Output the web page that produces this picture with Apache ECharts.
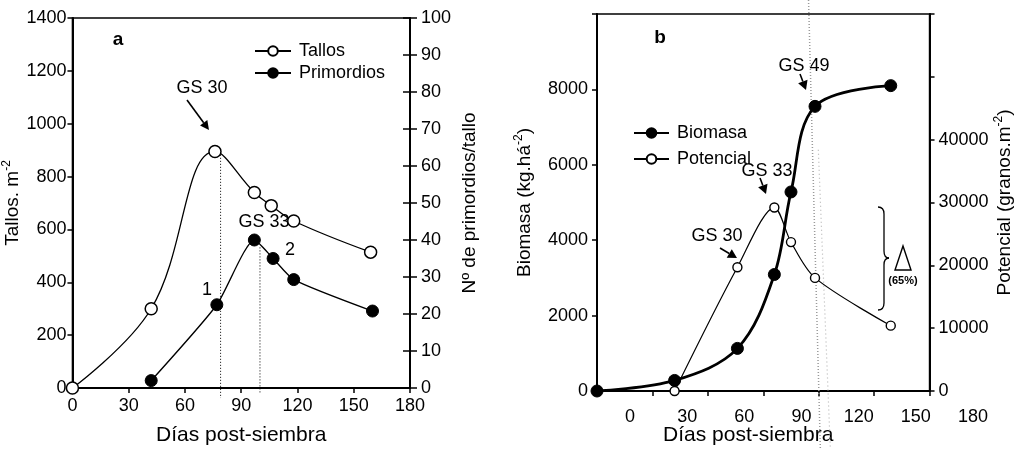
<!DOCTYPE html>
<html>
<head>
<meta charset="utf-8">
<script src="https://cdn.jsdelivr.net/npm/echarts@6/dist/echarts.min.js"></script>
<style>html,body{margin:0;padding:0;background:#fff}#c{width:1015px;height:451px}</style>
</head>
<body>
<div id="c"></div>
<script>
// ---------- Panel a data ----------
const daysTallos = [0, 42, 76, 97, 106, 118, 159];
const tallos = [0, 300, 895, 740, 690, 632, 514];
const daysPrim = [42, 77, 97, 107, 118, 160];
const primordios = [2, 22.5, 40, 35, 29.3, 20.8];
const xTicksA = [0, 30, 60, 90, 120, 150, 180];
const tallosTicks = [0, 200, 400, 600, 800, 1000, 1200, 1400];
const primTicks = [0, 10, 20, 30, 40, 50, 60, 70, 80, 90, 100];
const gs30LineA = [[79, 905], [79, -38]];
const gs33LineA = [[100, 38], [100, -1.5]];

// ---------- Panel b data ----------
const daysBio = [0, 42, 76, 96, 105, 118, 159];
const biomasa = [0, 280, 1130, 3090, 5280, 7550, 8100];
const daysPot = [42, 76, 96, 105, 118, 159];
const potencial = [0, 19700, 29200, 23700, 18000, 10400];
const xTicksB = [0, 30, 60, 90, 120, 150, 180];
const bioTicks = [0, 2000, 4000, 6000, 8000, 10000];
const bioTickLabels = [0, 2000, 4000, 6000, 8000];
const potTicks = [0, 10000, 20000, 30000, 40000, 50000, 60000];
const potTickLabels = [0, 10000, 20000, 30000, 40000];
const gs49Band1 = [[114.5, 10370], [120.9, -1530]];
const gs49Band2 = [[119.8, 6400], [126.3, -1530]];

const zip = (xs, ys) => xs.map((x, i) => [x, ys[i]]);
const FONT = 'Liberation Sans';
const BLK = '#000';

function axisRange(t) { return { min: t[0], max: t[t.length - 1], interval: t[1] - t[0] }; }

function arrow(x1, y1, x2, y2, L, W) {
  L = L || 9; W = W || 4.5;
  const a = Math.atan2(y2 - y1, x2 - x1), c = Math.cos(a), s = Math.sin(a);
  const bx = x2 - L * c, by = y2 - L * s;
  return [
    { type: 'line', shape: { x1: x1, y1: y1, x2: bx, y2: by }, style: { stroke: BLK, lineWidth: 1.6 } },
    { type: 'polygon', shape: { points: [[x2, y2], [bx + W * s, by - W * c], [bx - W * s, by + W * c]] }, style: { fill: BLK } }
  ];
}
function txt(x, y, t, size, bold) {
  return { type: 'text', x: x, y: y, style: { text: t, fill: BLK, font: (bold ? 'bold ' : '') + size + 'px "' + FONT + '"', align: 'center', verticalAlign: 'middle' } };
}
function qc(x1, y1, cx, cy, x2, y2) {
  return { type: 'bezierCurve', shape: { x1: x1, y1: y1, cpx1: cx, cpy1: cy, x2: x2, y2: y2 }, style: { fill: 'none', stroke: BLK, lineWidth: 1.3 } };
}
function ln(x1, y1, x2, y2) {
  return { type: 'line', shape: { x1: x1, y1: y1, x2: x2, y2: y2 }, style: { stroke: BLK, lineWidth: 1.3 } };
}

const supRich = { sup: { fontSize: 12, verticalAlign: 'top', lineHeight: 24, fontFamily: FONT, color: BLK }, n: { fontSize: 19, lineHeight: 24, fontFamily: FONT, color: BLK } };

const axisLineS = { show: true, lineStyle: { color: BLK, width: 2 } };
const tickS = (len, inside) => ({ show: true, inside: !!inside, length: len, lineStyle: { color: BLK, width: 1.5 } });
const lblS = (m, keep) => ({ fontSize: 18, color: BLK, fontFamily: FONT, margin: m,
  formatter: v => (!keep || keep.includes(v)) ? String(v) : '' });

const chart = echarts.init(document.getElementById('c'), null, { renderer: 'canvas' });

const option = {
  animation: false,
  backgroundColor: '#fff',
  textStyle: { fontFamily: FONT, color: BLK },
  grid: [
    { left: 71, top: 18, width: 339, height: 372, show: true, borderColor: BLK, borderWidth: 1.5, backgroundColor: 'transparent' },
    { left: 597, top: 14, width: 335, height: 379, show: true, borderColor: BLK, borderWidth: 1.5, backgroundColor: 'transparent' },
    { left: 630, top: 14, width: 343, height: 379 }
  ],
  legend: [
    { data: ['Tallos', 'Primordios'], orient: 'vertical', left: 249, top: 37, itemWidth: 36, itemHeight: 12, itemGap: 4, selectedMode: false,
      textStyle: { fontSize: 18, color: BLK, fontFamily: FONT, padding: [0, 0, 0, 3] } },
    { data: ['Biomasa', 'Potencial'], orient: 'vertical', left: 628, top: 119, itemWidth: 35, itemHeight: 12, itemGap: 8, selectedMode: false,
      textStyle: { fontSize: 18, color: BLK, fontFamily: FONT, padding: [0, 0, 0, 3] } }
  ],
  xAxis: [
    Object.assign({ gridIndex: 0, type: 'value', axisLine: axisLineS, axisTick: tickS(5), axisLabel: lblS(9), splitLine: { show: false },
      name: 'Días post-siembra', nameLocation: 'middle', nameGap: 37, nameTextStyle: { fontSize: 21, color: BLK } }, axisRange(xTicksA)),
    Object.assign({ gridIndex: 1, type: 'value', axisLine: axisLineS, axisTick: tickS(5), axisLabel: { show: false }, splitLine: { show: false },
      name: 'Días post-siembra', nameLocation: 'middle', nameGap: 34, nameTextStyle: { fontSize: 21, color: BLK, padding: [0, 30, 0, 0] } }, axisRange(xTicksB)),
    Object.assign({ gridIndex: 2, type: 'value', axisLine: { show: false }, axisTick: { show: false }, axisLabel: lblS(15), splitLine: { show: false } }, axisRange(xTicksB))
  ],
  yAxis: [
    Object.assign({ gridIndex: 0, type: 'value', position: 'left', axisLine: axisLineS, axisTick: tickS(5), axisLabel: lblS(6), splitLine: { show: false },
      name: '{n|Tallos. m}{sup|-2}', nameLocation: 'middle', nameRotate: 90, nameGap: 43, nameTextStyle: { rich: supRich } }, axisRange(tallosTicks)),
    Object.assign({ gridIndex: 0, type: 'value', position: 'right', axisLine: axisLineS, axisTick: tickS(7), axisLabel: lblS(11), splitLine: { show: false },
      name: 'Nº de primordios/tallo', nameLocation: 'middle', nameRotate: 90, nameGap: 50, nameTextStyle: { fontSize: 19, color: BLK } }, axisRange(primTicks)),
    Object.assign({ gridIndex: 0, type: 'value', position: 'right', axisLine: { show: false }, axisTick: tickS(7, true), axisLabel: { show: false }, splitLine: { show: false } }, axisRange(primTicks)),
    Object.assign({ gridIndex: 1, type: 'value', position: 'left', axisLine: axisLineS, axisTick: tickS(5), splitLine: { show: false },
      axisLabel: lblS(9, bioTickLabels),
      name: '{n|Biomasa (kg.há}{sup|-2}{n|)}', nameLocation: 'middle', nameRotate: 90, nameGap: 60, nameTextStyle: { rich: supRich } }, axisRange(bioTicks)),
    Object.assign({ gridIndex: 1, type: 'value', position: 'right', axisLine: axisLineS, axisTick: tickS(5), splitLine: { show: false },
      axisLabel: lblS(9, potTickLabels),
      name: '{n|Potencial (granos.m}{sup|-2}{n|)}', nameLocation: 'middle', nameRotate: 90, nameGap: 62, nameTextStyle: { rich: supRich } }, axisRange(potTicks)),
    { gridIndex: 2, type: 'value', show: false, min: 0, max: 1 }
  ],
  series: [
    { name: 'Tallos', type: 'line', xAxisIndex: 0, yAxisIndex: 0, data: zip(daysTallos, tallos), smooth: 0.4,
      symbol: 'circle', symbolSize: 12, itemStyle: { color: '#fff', borderColor: BLK, borderWidth: 1.5 }, lineStyle: { color: BLK, width: 1.3 }, z: 4 },
    { name: 'Primordios', type: 'line', xAxisIndex: 0, yAxisIndex: 1, data: zip(daysPrim, primordios), smooth: 0.2,
      symbol: 'circle', symbolSize: 12, itemStyle: { color: BLK, borderColor: BLK, borderWidth: 1 }, lineStyle: { color: BLK, width: 1.3 }, z: 4 },
    { type: 'line', xAxisIndex: 0, yAxisIndex: 0, data: gs30LineA, symbol: 'none', clip: false, silent: true,
      lineStyle: { color: BLK, width: 1, type: [1, 2] }, z: 2 },
    { type: 'line', xAxisIndex: 0, yAxisIndex: 1, data: gs33LineA, symbol: 'none', clip: false, silent: true,
      lineStyle: { color: BLK, width: 1, type: [1, 2] }, z: 2 },
    { type: 'line', xAxisIndex: 1, yAxisIndex: 3, data: gs49Band1, symbol: 'none', clip: false, silent: true,
      lineStyle: { color: '#9a9a9a', width: 1.5, type: [1, 2] }, z: 1 },
    { type: 'line', xAxisIndex: 1, yAxisIndex: 3, data: gs49Band2, symbol: 'none', clip: false, silent: true,
      lineStyle: { color: '#b5b5b5', width: 1.2, type: [1, 3] }, z: 1 },
    { name: 'Biomasa', type: 'line', xAxisIndex: 1, yAxisIndex: 3, data: zip(daysBio, biomasa), smooth: 0.35,
      symbol: 'circle', symbolSize: 12, itemStyle: { color: BLK, borderColor: BLK, borderWidth: 1 }, lineStyle: { color: BLK, width: 2.8 }, z: 4 },
    { name: 'Potencial', type: 'line', xAxisIndex: 1, yAxisIndex: 4, data: zip(daysPot, potencial), smooth: 0.3,
      symbol: 'circle', symbolSize: 9, itemStyle: { color: '#fff', borderColor: BLK, borderWidth: 1.4 }, lineStyle: { color: BLK, width: 1.2 }, z: 4 }
  ],
  graphic: [].concat(
    [txt(118, 40, 'a', 19, true), txt(202, 88, 'GS 30', 18), txt(264, 222, 'GS 33', 18), txt(207, 290, '1', 18), txt(290, 250, '2', 18)],
    arrow(187, 100, 209, 130),
    [txt(660, 38, 'b', 19, true), txt(767, 171, 'GS 33', 18), txt(717, 236, 'GS 30', 18), txt(804, 66, 'GS 49', 18),
     txt(903, 281, '(65%)', 11, true)],
    arrow(760, 178, 766, 194, 9, 5),
    arrow(720, 248, 737, 258, 9, 5),
    arrow(800, 74, 806, 90, 9, 5),
    [
      { type: 'polygon', shape: { points: [[903, 246], [895, 270], [911, 270]] }, style: { fill: 'none', stroke: BLK, lineWidth: 1.4 } },
      qc(878, 207, 884, 207, 884, 214), ln(884, 214, 884, 251), qc(884, 251, 884, 258, 889, 258),
      qc(889, 258, 884, 258, 884, 265), ln(884, 265, 884, 303), qc(884, 303, 884, 310, 878, 310)
    ]
  )
};
chart.setOption(option);
</script>
</body>
</html>
